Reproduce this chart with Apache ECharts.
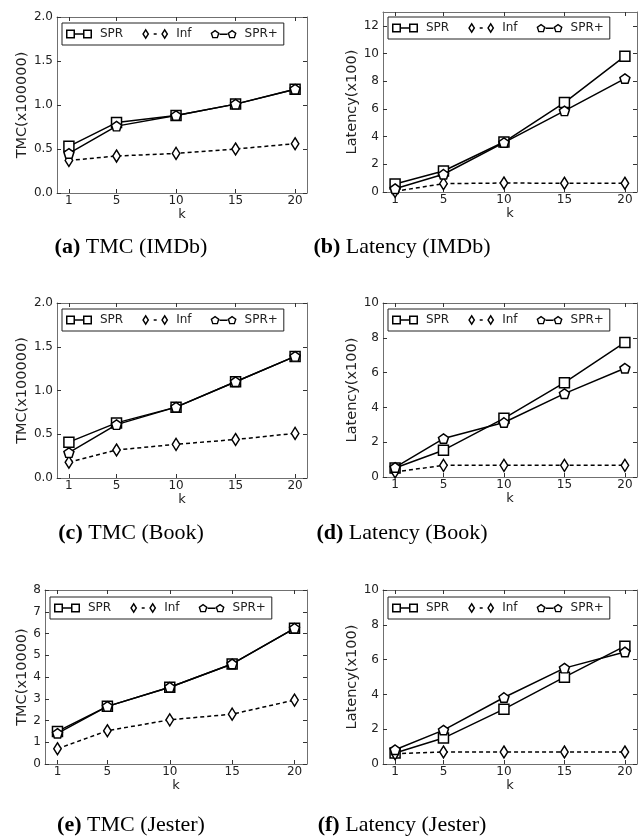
<!DOCTYPE html>
<html>
<head>
<meta charset="utf-8">
<script src="https://cdn.jsdelivr.net/npm/echarts@6/dist/echarts.min.js"></script>
<style>
html,body{margin:0;padding:0;background:#fff;}
#chart{width:643px;height:837px;}
</style>
</head>
<body>
<div id="chart"></div>
<script>
// ---------- data ----------
const kValues = [1, 5, 10, 15, 20];
const seriesNames = ['SPR', 'Inf', 'SPR+'];

const tmcImdbSPR   = [0.53, 0.80, 0.88, 1.01, 1.18];
const tmcImdbInf   = [0.37, 0.42, 0.45, 0.50, 0.56];
const tmcImdbSPRp  = [0.45, 0.76, 0.88, 1.01, 1.18];

const latImdbSPR   = [0.58, 1.52, 3.61, 6.46, 9.81];
const latImdbInf   = [0.05, 0.60, 0.65, 0.63, 0.63];
const latImdbSPRp  = [0.24, 1.28, 3.57, 5.86, 8.19];

const tmcBookSPR   = [0.41, 0.63, 0.81, 1.10, 1.39];
const tmcBookInf   = [0.18, 0.32, 0.385, 0.44, 0.51];
const tmcBookSPRp  = [0.29, 0.61, 0.81, 1.10, 1.39];

const latBookSPR   = [0.52, 1.54, 3.37, 5.42, 7.73];
const latBookInf   = [0.29, 0.67, 0.67, 0.67, 0.67];
const latBookSPRp  = [0.55, 2.21, 3.13, 4.79, 6.25];

const tmcJesterSPR  = [1.50, 2.65, 3.53, 4.60, 6.24];
const tmcJesterInf  = [0.70, 1.53, 2.03, 2.29, 2.94];
const tmcJesterSPRp = [1.41, 2.65, 3.53, 4.60, 6.24];

const latJesterSPR  = [0.63, 1.49, 3.15, 4.99, 6.77];
const latJesterInf  = [0.59, 0.69, 0.69, 0.69, 0.69];
const latJesterSPRp = [0.82, 1.95, 3.82, 5.51, 6.44];

const tmcTicks       = [0, 0.5, 1.0, 1.5, 2.0];
const latTicksImdb   = [0, 2, 4, 6, 8, 10, 12];
const latTicks       = [0, 2, 4, 6, 8, 10];
const tmcTicksJester = [0, 1, 2, 3, 4, 5, 6, 7, 8];

const yNames = ['TMC(x100000)', 'Latency(x100)', 'TMC(x100000)', 'Latency(x100)', 'TMC(x10000)', 'Latency(x100)'];
const captionTag = ['(a)', '(b)', '(c)', '(d)', '(e)', '(f)'];
const captionText = ['TMC (IMDb)', 'Latency (IMDb)', 'TMC (Book)', 'Latency (Book)', 'TMC (Jester)', 'Latency (Jester)'];

// ---------- panel setup ----------
const panels = [
  {spr: tmcImdbSPR, inf: tmcImdbInf, sprp: tmcImdbSPRp, ymax: 2, ticks: tmcTicks, dec: 1,
   grid: {left: 57, top: 17, width: 250, height: 176}, nameGap: 22, kGap: 1, legend: {left: 62, top: 23}, cap: [131, 247]},
  {spr: latImdbSPR, inf: latImdbInf, sprp: latImdbSPRp, ymax: 13, ticks: latTicksImdb, dec: 0,
   grid: {left: 383, top: 12, width: 254, height: 180}, nameGap: 18, kGap: 12, legend: {left: 388, top: 17}, cap: [402, 247]},
  {spr: tmcBookSPR, inf: tmcBookInf, sprp: tmcBookSPRp, ymax: 2, ticks: tmcTicks, dec: 1,
   grid: {left: 57, top: 303, width: 250, height: 175}, nameGap: 22, kGap: 11, legend: {left: 62, top: 309}, cap: [131, 533]},
  {spr: latBookSPR, inf: latBookInf, sprp: latBookSPRp, ymax: 10, ticks: latTicks, dec: 0,
   grid: {left: 383, top: 303, width: 254, height: 174}, nameGap: 18, kGap: 12, legend: {left: 388, top: 309}, cap: [402, 533]},
  {spr: tmcJesterSPR, inf: tmcJesterInf, sprp: tmcJesterSPRp, ymax: 8, ticks: tmcTicksJester, dec: 0,
   grid: {left: 45, top: 590, width: 262, height: 174}, nameGap: 11, kGap: 14, legend: {left: 50, top: 597}, cap: [131, 825]},
  {spr: latJesterSPR, inf: latJesterInf, sprp: latJesterSPRp, ymax: 10, ticks: latTicks, dec: 0,
   grid: {left: 383, top: 590, width: 254, height: 174}, nameGap: 18, kGap: 14, legend: {left: 388, top: 597}, cap: [402, 825]}
];

const FONT = 'DejaVu Sans';
const AXIS_COLOR = '#707070';
const TEXT_COLOR = '#222';

const pentagonPath = 'path://M0,-1 L0.9511,-0.309 L0.5878,0.809 L-0.5878,0.809 L-0.9511,-0.309 Z';

// legend icons (two markers joined by a line)
const iconSPR = 'path://M0 1 L9 1 L9 10 L0 10 Z M1.5 2.5 L1.5 8.5 L7.5 8.5 L7.5 2.5 Z ' +
  'M9 4.75 L17 4.75 L17 6.25 L9 6.25 Z ' +
  'M17 1 L26 1 L26 10 L17 10 Z M18.5 2.5 L18.5 8.5 L24.5 8.5 L24.5 2.5 Z';
const iconInf = 'path://M3.5 0 L7 5.5 L3.5 11 L0 5.5 Z M3.5 2.7 L1.7 5.5 L3.5 8.3 L5.3 5.5 Z ' +
  'M11.5 4.8 L14.5 4.8 L14.5 6.2 L11.5 6.2 Z ' +
  'M22.5 0 L26 5.5 L22.5 11 L19 5.5 Z M22.5 2.7 L20.7 5.5 L22.5 8.3 L24.3 5.5 Z';
function pentIcon(dx) {
  const o = [[4.5, 1], [9, 4.27], [7.28, 9.56], [1.72, 9.56], [0, 4.27]];
  const i = [[4.5, 2.73], [1.65, 4.80], [2.74, 8.16], [6.26, 8.16], [7.35, 4.80]];
  const f = a => 'M' + a.map(p => (p[0] + dx).toFixed(2) + ' ' + p[1].toFixed(2)).join(' L') + ' Z ';
  return f(o) + f(i);
}
const iconSPRp = 'path://' + pentIcon(0) + 'M9 4.8 L17 4.8 L17 6.2 L9 6.2 Z ' + pentIcon(17);

const grids = [], xAxes = [], yAxes = [], series = [], legends = [], graphics = [];

panels.forEach((p, idx) => {
  grids.push(Object.assign({containLabel: false}, p.grid));
  const baseX = {
    type: 'value', gridIndex: idx, min: 0, max: 21,
    axisLine: {show: true, onZero: false, lineStyle: {color: AXIS_COLOR, width: 1}},
    axisTick: {show: true, inside: true, length: 4, customValues: kValues, lineStyle: {color: '#333'}},
    splitLine: {show: false}
  };
  xAxes.push(Object.assign({}, baseX, {
    position: 'bottom',
    axisLabel: {show: true, customValues: kValues, margin: 2, color: TEXT_COLOR, fontFamily: FONT, fontSize: 12},
    name: 'k', nameLocation: 'middle', nameGap: p.kGap,
    nameTextStyle: {color: TEXT_COLOR, fontFamily: FONT, fontSize: 13}
  }));
  xAxes.push(Object.assign({}, baseX, {position: 'top', axisLabel: {show: false}}));

  const baseY = {
    type: 'value', gridIndex: idx, min: 0, max: p.ymax,
    axisLine: {show: true, onZero: false, lineStyle: {color: AXIS_COLOR, width: 1}},
    axisTick: {show: true, inside: true, length: 4, customValues: p.ticks, lineStyle: {color: '#333'}},
    splitLine: {show: false}
  };
  yAxes.push(Object.assign({}, baseY, {
    position: 'left',
    axisLabel: {show: true, customValues: p.ticks, margin: 4, color: TEXT_COLOR, fontFamily: FONT, fontSize: 12,
      formatter: v => Number(v).toFixed(p.dec)},
    name: yNames[idx], nameLocation: 'middle', nameRotate: 90, nameGap: p.nameGap,
    nameTextStyle: {color: TEXT_COLOR, fontFamily: FONT, fontSize: 14.5}
  }));
  yAxes.push(Object.assign({}, baseY, {position: 'right', axisLabel: {show: false}}));

  const xi = idx * 2, yi = idx * 2;
  const pairs = arr => kValues.map((k, j) => [k, arr[j]]);
  series.push({
    name: 'SPR', type: 'line', xAxisIndex: xi, yAxisIndex: yi, data: pairs(p.spr),
    symbol: 'rect', symbolSize: 10, showAllSymbol: true,
    lineStyle: {color: '#000', width: 1.5},
    itemStyle: {color: '#fff', borderColor: '#000', borderWidth: 1.5},
    emphasis: {disabled: true}, animation: false, z: 2
  });
  series.push({
    name: 'Inf', type: 'line', xAxisIndex: xi, yAxisIndex: yi, data: pairs(p.inf),
    symbol: 'diamond', symbolSize: [7.5, 12],
    lineStyle: {color: '#000', width: 1.5, type: [4, 3]},
    itemStyle: {color: '#fff', borderColor: '#000', borderWidth: 1.5},
    emphasis: {disabled: true}, animation: false, z: 3
  });
  series.push({
    name: 'SPR+', type: 'line', xAxisIndex: xi, yAxisIndex: yi, data: pairs(p.sprp),
    symbol: pentagonPath, symbolSize: [10, 9.5],
    lineStyle: {color: '#000', width: 1.5},
    itemStyle: {color: '#fff', borderColor: '#000', borderWidth: 1.5},
    emphasis: {disabled: true}, animation: false, z: 4
  });

  legends.push({
    left: p.legend.left, top: p.legend.top, orient: 'horizontal',
    selectedMode: false,
    backgroundColor: '#fff', borderColor: '#222', borderWidth: 1, borderRadius: 0,
    padding: [5, 6, 5, 4], itemGap: 19, itemWidth: 26, itemHeight: 11,
    itemStyle: {color: '#000', borderColor: 'transparent', borderWidth: 0},
    textStyle: {color: TEXT_COLOR, fontFamily: FONT, fontSize: 12, padding: [0, 0, 0, 3]},
    data: [
      {name: 'SPR', icon: iconSPR},
      {name: 'Inf', icon: iconInf},
      {name: 'SPR+', icon: iconSPRp}
    ]
  });

  graphics.push({
    type: 'text', x: p.cap[0], y: p.cap[1],
    style: {
      text: '{b|' + captionTag[idx] + '} ' + captionText[idx],
      fill: '#000', font: '22px "Liberation Serif"', align: 'center', verticalAlign: 'middle',
      rich: {b: {fontWeight: 'bold', fontFamily: 'Liberation Serif', fontSize: 22, fill: '#000'}}
    }
  });
});

const chart = echarts.init(document.getElementById('chart'), null, {renderer: 'canvas'});
chart.setOption({
  backgroundColor: '#fff',
  animation: false,
  grid: grids,
  xAxis: xAxes,
  yAxis: yAxes,
  series: series,
  legend: legends,
  graphic: graphics
});
</script>
</body>
</html>
